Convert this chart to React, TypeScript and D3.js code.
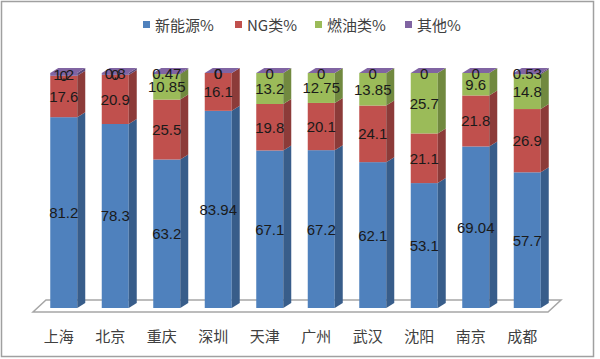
import * as React from 'react';
import * as d3 from 'd3';

const cities = ['上海', '北京', '重庆', '深圳', '天津', '广州', '武汉', '沈阳', '南京', '成都'];
const newEnergy = [81.2, 78.3, 63.2, 83.94, 67.1, 67.2, 62.1, 53.1, 69.04, 57.7];
const ngShare = [17.6, 20.9, 25.5, 16.1, 19.8, 20.1, 24.1, 21.1, 21.8, 26.9];
const fuelShare = [0, 0, 10.85, 0, 13.2, 12.75, 13.85, 25.7, 9.6, 14.8];
const otherShare = [1.2, 0.8, 0.47, 0, 0, 0, 0, 0, 0, 0.53];
const seriesNames = ['新能源%', 'NG类%', '燃油类%', '其他%'];

const palette = [
  { front: '#4F81BD', side: '#385D8A' },
  { front: '#C0504D', side: '#8C3B39' },
  { front: '#9BBB59', side: '#71893F' },
  { front: '#8064A2', side: '#5C4776' },
];

const width = 600;
const height = 359;
const barW = 27;
const dx = 8; // depth offset of the bar boxes
const dy = 5;

export default function App() {
  const rows = cities.map((c, i) => ({
    city: c,
    s0: newEnergy[i],
    s1: ngShare[i],
    s2: fuelShare[i],
    s3: otherShare[i],
  }));
  const keys = ['s0', 's1', 's2', 's3'];
  const stacked = d3.stack<any>().keys(keys).offset(d3.stackOffsetExpand)(rows);
  const raw = [newEnergy, ngShare, fuelShare, otherShare];

  const xCat = d3.scaleBand<string>().domain(cities).range([33, 548]);
  const y = d3.scaleLinear().domain([0, 1]).range([308, 73]);
  const barLeft = (c: string) => (xCat(c) as number) + xCat.bandwidth() / 2 + 5 - barW / 2;

  const legendX = [143, 235, 315, 405];

  return (
    <svg width={width} height={height} style={{ position: 'absolute', left: 0, top: 0, background: '#fff' }}>
      <rect x={1.5} y={1.5} width={592} height={355} fill="#fff" stroke="#a0a0a0" strokeWidth={1.5} />

      {/* legend */}
      {seriesNames.map((name, i) => (
        <g key={name}>
          <rect x={legendX[i]} y={21} width={7} height={7} fill={palette[i].front} />
          <text x={legendX[i] + 12} y={24.5} dominantBaseline="central" fontSize={15}
            fontFamily="'Noto Sans CJK SC', sans-serif" fill="#404040">{name}</text>
        </g>
      ))}

      {/* floor */}
      <path d="M33,312 L548,312 L561,300 L46,300 Z" fill="#fff" stroke="#a6a6a6" strokeWidth={1.5} />

      {/* bars */}
      {cities.map((c, ci) => {
        const xl = barLeft(c);
        const xr = xl + barW;
        const topY = y(1);
        return (
          <g key={c}>
            {stacked.map((s, si) => {
              const y0 = y(s[ci][0]);
              const y1 = y(s[ci][1]);
              return (
                <g key={si}>
                  <rect x={xl} y={y1} width={barW} height={Math.max(0, y0 - y1)} fill={palette[si].front} />
                  <path d={`M${xr},${y1} L${xr + dx},${y1 - dy} L${xr + dx},${y0 - dy} L${xr},${y0} Z`}
                    fill={palette[si].side} />
                </g>
              );
            })}
            <path d={`M${xl},${topY} L${xl + dx},${topY - dy} L${xr + dx},${topY - dy} L${xr},${topY} Z`}
              fill={palette[3].front} />
          </g>
        );
      })}

      {/* data labels */}
      {cities.map((c, ci) => {
        const cx = barLeft(c) + barW / 2;
        return stacked.map((s, si) => {
          const mid = (y(s[ci][0]) + y(s[ci][1])) / 2;
          return (
            <text key={`${c}-${si}`} x={cx} y={mid} textAnchor="middle" dominantBaseline="central"
              fontSize={15} fontFamily="'Liberation Sans', Arial, sans-serif" fill="#1a1a1a">
              {raw[si][ci]}
            </text>
          );
        });
      })}

      {/* category labels */}
      {cities.map((c) => (
        <text key={c} x={(xCat(c) as number) + xCat.bandwidth() / 2} y={335} textAnchor="middle"
          dominantBaseline="central" fontSize={15} fontFamily="'Noto Sans CJK SC', sans-serif" fill="#404040">
          {c}
        </text>
      ))}
    </svg>
  );
}
